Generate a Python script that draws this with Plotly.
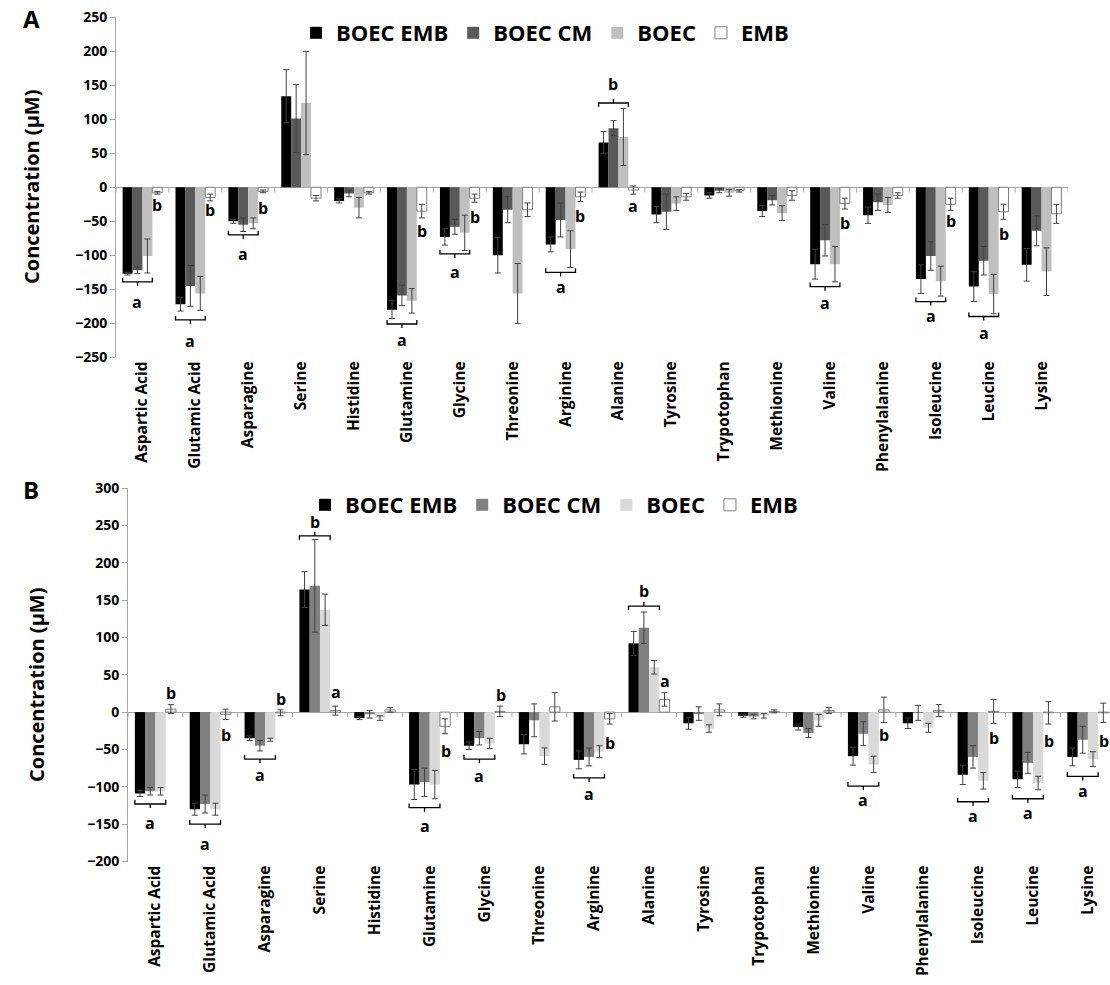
import plotly.graph_objects as go

categories = ["Aspartic Acid", "Glutamic Acid", "Asparagine", "Serine", "Histidine",
              "Glutamine", "Glycine", "Threonine", "Arginine", "Alanine", "Tyrosine",
              "Trypotophan", "Methionine", "Valine", "Phenylalanine", "Isoleucine",
              "Leucine", "Lysine"]
series_names = ["BOEC EMB", "BOEC CM", "BOEC", "EMB"]

# ---- Panel A ----
a_boec_emb = [-127, -172, -50, 134, -20, -180, -73, -100, -84, 66, -40, -12, -35, -113, -41, -135, -146, -114]
a_boec_emb_err = [2, 10, 3, 39, 3, 13, 12, 26, 11, 16, 12, 4, 8, 22, 12, 21, 22, 24]
a_boec_cm = [-122, -145, -55, 101, -9, -159, -58, -33, -48, 87, -36, -5, -19, -78, -22, -101, -108, -64]
a_boec_cm_err = [5, 30, 10, 50, 5, 15, 11, 19, 25, 11, 26, 3, 7, 23, 12, 21, 21, 22]
a_boec = [-101, -156, -53, 124, -30, -167, -67, -156, -91, 74, -24, -8, -38, -113, -26, -138, -157, -124]
a_boec_err = [25, 25, 8, 76, 15, 18, 26, 44, 27, 42, 10, 5, 11, 26, 11, 22, 29, 35]
a_emb = [-8, -15, -6, -16, -8, -35, -16, -33, -14, -4, -14, -5, -12, -24, -12, -25, -36, -39]
a_emb_err = [2, 5, 2, 4, 2, 10, 6, 10, 7, 6, 5, 2, 7, 8, 4, 9, 11, 14]

# ---- Panel B ----
b_boec_emb = [-109, -130, -35, 164, -8, -97, -45, -43, -64, 92, -15, -5, -20, -59, -15, -84, -90, -60]
b_boec_emb_err = [4, 8, 3, 24, 2, 20, 5, 13, 12, 16, 8, 2, 4, 12, 7, 13, 11, 12]
b_boec_cm = [-106, -123, -45, 169, -3, -94, -35, -11, -60, 113, -2, -6, -28, -29, -1, -60, -68, -37]
b_boec_cm_err = [5, 12, 7, 62, 5, 19, 9, 22, 12, 21, 9, 3, 6, 16, 10, 15, 14, 18]
b_boec = [-106, -130, -37, 137, -8, -97, -42, -59, -53, 60, -22, -5, -11, -70, -21, -92, -95, -63]
b_boec_err = [5, 8, 2, 21, 3, 19, 7, 11, 8, 9, 5, 3, 8, 11, 6, 11, 9, 10]
b_emb = [4, -3, -1, 2, 3, -19, 1, 7, -9, 17, 3, 1, 2, 3, 2, 1, -1, -1]
b_emb_err = [6, 7, 4, 6, 3, 10, 7, 19, 7, 9, 8, 2, 4, 17, 8, 16, 15, 13]

# ---- significance annotations ----
a_bracket_cats = [0, 1, 2, 5, 6, 8, 13, 15, 16, 9]
a_bracket_y = [-139, -195, -70, -201, -98, -125, -146, -168, -190, 124]
a_bracket_dir = [-1, -1, -1, -1, -1, -1, -1, -1, -1, 1]
a_bracket_text = ["a", "a", "a", "a", "a", "a", "a", "a", "a", "b"]
a_bracket_text_y = [-168, -226, -98, -225, -125, -146, -170, -189, -214, 152]
a_emb_text_cats = [0, 1, 2, 5, 6, 8, 13, 15, 16, 9]
a_emb_text = ["b", "b", "b", "b", "b", "b", "b", "b", "b", "a"]
a_emb_text_y = [-26, -34, -30, -64, -43, -42, -52, -50, -69, -27]

b_bracket_cats = [0, 1, 2, 5, 6, 8, 13, 15, 16, 17, 3, 9]
b_bracket_y = [-123, -150, -63, -128, -63, -88, -99, -120, -116, -86, 236, 142]
b_bracket_dir = [-1, -1, -1, -1, -1, -1, -1, -1, -1, -1, 1, 1]
b_bracket_text = ["a"] * 10 + ["b", "b"]
b_bracket_text_y = [-148, -176, -84, -153, -86, -109, -118, -139, -135, -105, 254, 162]
b_emb_text_cats = [0, 1, 2, 3, 5, 6, 8, 9, 13, 15, 16, 17]
b_emb_text = ["b", "b", "b", "a", "b", "b", "b", "a", "b", "b", "b", "b"]
b_emb_text_y = [26, -30, 17, 27, -52, 23, -41, 41, -30, -35, -39, -39]

FONT = "Open Sans, Liberation Sans, sans-serif"
W, H = 1110, 985
colors_a = ["#000000", "#595959", "#bfbfbf", "#ffffff"]
colors_b = ["#000000", "#808080", "#d9d9d9", "#ffffff"]
AXC = "#a6a6a6"
BARGAP = 0.25
BW = (1 - BARGAP) / 4

fig = go.Figure()

def add_panel(vals, errs, colors, xa, ya, leg):
    for name, v, e, c in zip(series_names, vals, errs, colors):
        white = c == "#ffffff"
        fig.add_trace(go.Bar(
            x=categories, y=v, name=name, xaxis=xa, yaxis=ya, legend=leg,
            marker=dict(color=c, line=dict(color="#7f7f7f" if white else c, width=1 if white else 0)),
            error_y=dict(type="data", array=e, color="#404040", thickness=1, width=3),
        ))

add_panel([a_boec_emb, a_boec_cm, a_boec, a_emb],
          [a_boec_emb_err, a_boec_cm_err, a_boec_err, a_emb_err], colors_a, "x", "y", "legend")
add_panel([b_boec_emb, b_boec_cm, b_boec, b_emb],
          [b_boec_emb_err, b_boec_cm_err, b_boec_err, b_emb_err], colors_b, "x2", "y2", "legend2")

shapes = []
annotations = []

def axis_ticks(xr, yr, tick_len):
    for i in range(len(categories) + 1):
        shapes.append(dict(type="line", xref=xr, yref=yr, x0=i - 0.5, x1=i - 0.5, y0=0, y1=-tick_len,
                           line=dict(color=AXC, width=1)))

def brackets(cats, ys, dirs, texts, tys, emb_cats, emb_texts, emb_ys, xr, yr, h, emb_off):
    for c, y, d, t, ty in zip(cats, ys, dirs, texts, tys):
        x0, x1, xc = c - 2 * BW, c + BW, c - BW / 2
        ye, yc = y - d * h, y + d * h
        shapes.append(dict(type="path", xref=xr, yref=yr,
                           path=f"M{x0},{ye} L{x0},{y} L{x1},{y} L{x1},{ye} M{xc},{y} L{xc},{yc}",
                           line=dict(color="#000000", width=1.3)))
        annotations.append(dict(x=xc, y=ty, xref=xr, yref=yr, text=f"<b>{t}</b>", showarrow=False,
                                xanchor="center", yanchor="middle",
                                font=dict(family=FONT, size=16, color="black")))
    for c, t, y in zip(emb_cats, emb_texts, emb_ys):
        annotations.append(dict(x=c + emb_off, y=y, xref=xr, yref=yr, text=f"<b>{t}</b>", showarrow=False,
                                xanchor="center", yanchor="middle",
                                font=dict(family=FONT, size=16, color="black")))

axis_ticks("x", "y", 7.5)
axis_ticks("x2", "y2", 6.7)
brackets(a_bracket_cats, a_bracket_y, a_bracket_dir, a_bracket_text, a_bracket_text_y,
         a_emb_text_cats, a_emb_text, a_emb_text_y, "x", "y", 6, 1.5 * BW)
brackets(b_bracket_cats, b_bracket_y, b_bracket_dir, b_bracket_text, b_bracket_text_y,
         b_emb_text_cats, b_emb_text, b_emb_text_y, "x2", "y2", 5.5, 1.5 * BW + 0.01)

# axis titles and panel letters
for yc, xc in [(187, 31), (685, 36)]:
    annotations.append(dict(x=xc / W, y=1 - yc / H, xref="paper", yref="paper", text="<b>Concentration (µM)</b>",
                            textangle=-90, showarrow=False, xanchor="center", yanchor="middle",
                            font=dict(family=FONT, size=20, color="black")))
for lbl, xc, yc in [("A", 31, 19), ("B", 31, 490)]:
    annotations.append(dict(x=xc / W, y=1 - yc / H, xref="paper", yref="paper", text=f"<b>{lbl}</b>",
                            showarrow=False, xanchor="center", yanchor="middle",
                            font=dict(family=FONT, size=24, color="black")))

tickfont = dict(family=FONT, size=15.5, color="black")
yfont = dict(family=FONT, size=14, color="black")
legfont = dict(family=FONT, size=22, color="black", weight="bold")

common_y = dict(dtick=50, showline=True, linecolor=AXC, ticks="outside", ticklen=5, tickcolor=AXC,
                showgrid=False, zeroline=True, zerolinecolor=AXC, zerolinewidth=1, tickfont=yfont,
                tickprefix="<b>", ticksuffix="</b>", automargin=False)
common_x = dict(type="category", showline=False, ticks="", tickangle=-90, tickfont=tickfont,
                showgrid=False, tickprefix="<b>", ticksuffix="</b>", automargin=False)

fig.update_layout(
    width=W, height=H, margin=dict(l=0, r=0, t=0, b=0, pad=0, autoexpand=False),
    paper_bgcolor="white", plot_bgcolor="white",
    barmode="group", bargap=BARGAP, bargroupgap=0,
    shapes=shapes, annotations=annotations,
    xaxis=dict(domain=[116 / W, 1068 / W], anchor="y", range=[-0.5, 17.5], **common_x),
    yaxis=dict(domain=[1 - 357.3 / H, 1 - 17.3 / H], anchor="x", range=[-250, 250], **common_y),
    xaxis2=dict(domain=[128 / W, 1.0], anchor="y2", range=[-0.5, -0.5 + (1110 - 128) / 54.85], **common_x),
    yaxis2=dict(domain=[1 - 861.5 / H, 1 - 488 / H], anchor="x2", range=[-200, 300], **common_y),
    legend=dict(orientation="h", x=296 / W, y=1 - 33 / H, xanchor="left", yanchor="middle",
                font=legfont, bgcolor="rgba(0,0,0,0)"),
    legend2=dict(orientation="h", x=305 / W, y=1 - 505 / H, xanchor="left", yanchor="middle",
                 font=legfont, bgcolor="rgba(0,0,0,0)"),
)

fig.write_html("out.html", config={"displayModeBar": False},
               post_script="document.body.style.margin='0px';")
